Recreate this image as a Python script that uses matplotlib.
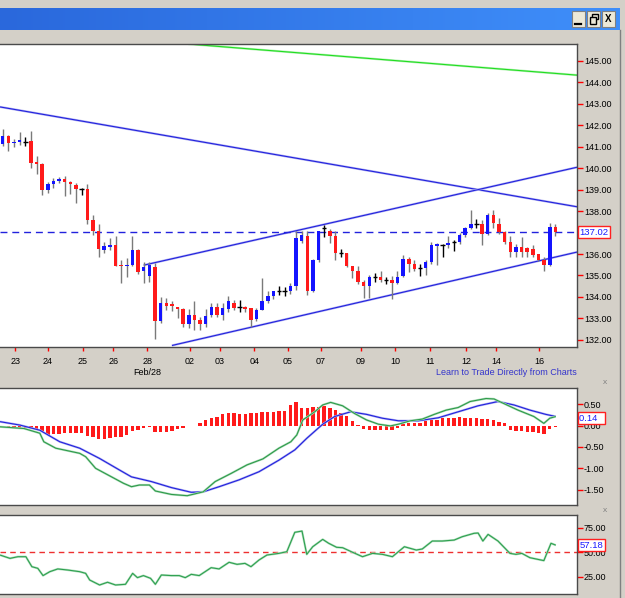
import numpy as np
import matplotlib
matplotlib.use("Agg")
import matplotlib.pyplot as plt
from matplotlib.patches import Rectangle

plt.rcParams['font.family'] = ['Liberation Sans', 'DejaVu Sans']
plt.rcParams['axes.unicode_minus'] = False

# 4-hour candles, Feb 23 -> Mar 16
opens = [141.13, 141.50, 141.16, 141.22, 141.23, 141.27, 140.25, 140.20, 138.99, 139.27,
         139.40, 139.48, 139.36, 139.22, 139.02, 139.02, 137.59, 137.09, 136.20, 136.35,
         136.41, 135.46, 135.42, 135.50, 136.20, 135.19, 134.99, 135.39, 132.86, 133.72,
         133.60, 133.50, 133.44, 132.75, 133.17, 132.94, 132.75, 133.17, 133.53, 133.17,
         133.44, 133.74, 133.53, 133.53, 133.48, 132.97, 133.40, 133.82, 134.06, 134.26,
         134.26, 134.27, 134.52, 136.60, 136.85, 134.26, 135.73, 137.20, 137.09, 136.85,
         136.04, 136.04, 135.42, 135.19, 134.72, 134.52, 134.91, 134.95, 134.77, 134.80,
         134.65, 134.99, 135.76, 135.54, 135.34, 135.34, 135.65, 136.38, 136.40, 136.40,
         136.58, 136.58, 136.89, 137.20, 137.39, 137.39, 136.93, 137.82, 137.39, 137.02,
         136.58, 136.09, 136.35, 136.30, 136.24, 135.99, 135.73, 135.50, 137.28]
highs = [141.81, 141.54, 141.34, 141.70, 141.47, 141.73, 140.57, 140.22, 139.37, 139.56,
         139.58, 139.64, 139.38, 139.33, 139.09, 139.27, 137.82, 137.40, 136.54, 136.74,
         136.85, 135.73, 135.81, 136.85, 136.23, 135.65, 135.64, 135.58, 134.02, 133.95,
         133.79, 133.52, 133.48, 133.44, 133.79, 133.09, 133.44, 133.72, 133.72, 133.74,
         134.06, 133.87, 133.84, 133.59, 133.50, 133.48, 134.88, 134.26, 134.30, 134.49,
         134.46, 134.65, 137.05, 137.05, 137.05, 135.75, 137.09, 137.36, 137.16, 137.09,
         136.23, 136.07, 135.45, 135.42, 134.80, 135.03, 135.11, 135.23, 134.95, 134.99,
         135.23, 135.96, 135.88, 135.70, 135.54, 135.73, 136.54, 136.49, 136.46, 136.86,
         136.66, 136.97, 137.28, 138.06, 137.64, 137.59, 137.90, 138.06, 137.70, 137.08,
         136.86, 136.46, 136.77, 136.32, 136.40, 136.01, 135.88, 137.44, 137.39]
lows = [141.03, 140.81, 141.00, 141.08, 141.03, 140.00, 139.72, 138.74, 138.86, 139.07,
        139.30, 138.71, 138.80, 138.37, 138.75, 137.40, 136.89, 135.88, 136.04, 136.17,
        135.42, 134.67, 134.95, 135.45, 135.08, 134.67, 134.71, 132.04, 132.79, 133.37,
        133.33, 133.00, 132.60, 132.55, 132.47, 132.47, 132.60, 133.09, 133.09, 132.91,
        133.28, 133.37, 133.28, 133.28, 132.60, 132.86, 133.37, 133.72, 133.90, 134.10,
        134.06, 134.15, 134.34, 136.51, 134.10, 134.21, 135.65, 136.81, 136.51, 135.73,
        135.88, 135.39, 134.88, 134.61, 133.95, 133.95, 134.72, 134.72, 134.61, 133.90,
        134.61, 134.95, 135.14, 135.19, 134.99, 135.03, 135.54, 135.50, 135.88, 136.27,
        136.12, 136.46, 136.81, 137.17, 137.20, 136.43, 136.89, 137.23, 136.93, 136.46,
        135.88, 135.88, 135.88, 135.88, 135.88, 135.68, 135.19, 135.42, 136.86]
closes = [141.50, 141.16, 141.23, 141.24, 141.23, 140.23, 140.21, 138.99, 139.27, 139.39,
          139.48, 139.37, 139.27, 139.03, 139.02, 137.59, 137.09, 136.23, 136.38, 136.43,
          135.45, 135.44, 135.50, 136.20, 135.14, 135.39, 135.50, 132.86, 133.72, 133.56,
          133.58, 133.44, 132.75, 133.17, 132.91, 132.75, 133.13, 133.53, 133.17, 133.48,
          133.79, 133.48, 133.53, 133.44, 132.94, 133.40, 133.82, 134.06, 134.26, 134.26,
          134.26, 134.52, 136.75, 136.89, 134.26, 135.73, 137.05, 137.20, 136.85, 136.04,
          136.04, 135.42, 135.23, 134.72, 134.52, 134.95, 134.91, 134.77, 134.77, 134.65,
          134.95, 135.76, 135.54, 135.30, 135.34, 135.65, 136.43, 136.47, 136.40, 136.51,
          136.58, 136.89, 137.20, 137.39, 137.39, 136.93, 137.82, 137.44, 137.02, 136.58,
          136.09, 136.35, 136.09, 136.09, 135.96, 135.73, 135.50, 137.28, 137.02]

day_tick_pos = [2.2, 8.0, 14.2, 19.6, 25.6, 33.2, 38.5, 44.6, 50.6, 56.4, 63.5, 69.6, 75.8, 82.2, 87.5, 95.1]
day_tick_labels = ["23", "24", "25", "26", "28", "02", "03", "04", "05", "07", "09", "10", "11", "12", "14", "16"]

# drawn trend lines (candle index, price)
green_line_x = [32.9, 101.83]
green_line_y = [145.78, 144.33]
resist_x = [-0.48, 101.83]
resist_y = [142.85, 138.20]
chan_top_x = [25.0, 101.83]
chan_top_y = [135.48, 140.04]
chan_bot_x = [30.0, 101.83]
chan_bot_y = [131.74, 136.09]
last_price = 137.02

# MACD panel
macd_hist = [-0.04, -0.05, -0.05, -0.06, -0.06, -0.07, -0.09, -0.12, -0.22, -0.21,
             -0.20, -0.18, -0.17, -0.17, -0.18, -0.25, -0.28, -0.31, -0.32, -0.30,
             -0.28, -0.26, -0.22, -0.14, -0.10, -0.06, -0.04, -0.15, -0.16, -0.15,
             -0.14, -0.09, -0.07, -0.02, -0.02, 0.06, 0.12, 0.18, 0.19, 0.27,
             0.29, 0.29, 0.28, 0.28, 0.29, 0.30, 0.31, 0.31, 0.32, 0.34,
             0.35, 0.47, 0.56, 0.40, 0.41, 0.43, 0.44, 0.45, 0.42, 0.37,
             0.30, 0.22, 0.10, 0.02, -0.09, -0.10, -0.10, -0.10, -0.11, -0.10,
             -0.05, 0.04, 0.05, 0.05, 0.06, 0.10, 0.13, 0.13, 0.17, 0.18,
             0.18, 0.19, 0.18, 0.18, 0.18, 0.16, 0.15, 0.13, 0.09, 0.05,
             -0.10, -0.12, -0.14, -0.15, -0.16, -0.18, -0.20, -0.08, -0.04]
macd_x = [-0.48, 3.76, 6.58, 7.29, 9.41, 13.65, 14.71, 16.47, 19.30, 21.42, 22.83, 24.25,
          26.01, 27.07, 29.90, 32.72, 35.55, 37.67, 40.49, 43.32, 46.14, 48.97, 51.09, 52.15,
          53.21, 55.33, 56.74, 58.15, 60.27, 62.39, 64.51, 66.63, 68.75, 70.16, 72.28, 74.40,
          76.52, 78.64, 80.76, 82.88, 85.70, 87.12, 89.23, 91.36, 94.18, 95.95, 97.00, 98.06]
macd_line = [-0.03, -0.07, -0.18, -0.38, -0.53, -0.65, -0.73, -1.00, -1.20, -1.35, -1.43, -1.39,
             -1.39, -1.53, -1.61, -1.64, -1.55, -1.31, -1.12, -0.92, -0.78, -0.53, -0.38, -0.22,
             0.13, 0.32, 0.48, 0.54, 0.46, 0.28, 0.13, 0.03, -0.01, 0.03, 0.11, 0.15,
             0.26, 0.36, 0.42, 0.56, 0.63, 0.62, 0.49, 0.36, 0.21, 0.05, 0.17, 0.21]
signal_x = [-0.48, 3.05, 6.58, 10.12, 13.65, 17.18, 20.71, 22.83, 26.37, 29.90, 33.43,
            35.55, 38.37, 41.91, 45.44, 48.97, 51.79, 53.91, 56.74, 58.86, 61.69, 64.51,
            67.34, 70.16, 73.69, 77.23, 80.76, 84.29, 87.82, 90.65, 93.48, 96.30, 98.06]
signal_line = [0.09, 0.01, -0.11, -0.38, -0.53, -0.77, -1.04, -1.20, -1.31, -1.45, -1.56,
               -1.55, -1.43, -1.27, -1.08, -0.81, -0.57, -0.30, 0.03, 0.21, 0.32, 0.26,
               0.17, 0.11, 0.11, 0.18, 0.32, 0.46, 0.56, 0.48, 0.36, 0.26, 0.21]
macd_label = "0.14"

# RSI panel
rsi_x = [-0.48, 1.29, 2.70, 4.11, 5.17, 6.23, 7.15, 8.35, 9.76, 11.53, 13.65, 14.71, 15.42,
         17.18, 18.59, 20.01, 21.77, 23.04, 23.89, 24.95, 26.22, 27.07, 28.13, 29.90, 31.31,
         32.37, 33.43, 34.84, 36.96, 38.37, 40.14, 41.55, 42.96, 44.02, 45.44, 46.85, 48.97,
         50.38, 51.79, 53.07, 53.91, 54.97, 56.74, 57.80, 59.21, 60.27, 62.04, 63.80, 65.57,
         67.34, 69.10, 71.22, 73.34, 74.40, 76.17, 77.93, 80.05, 81.47, 83.58, 84.29, 85.14,
         86.06, 87.82, 89.94, 91.00, 92.06, 93.47, 95.95, 97.22, 98.07]
rsi = [47.1, 43.7, 45.4, 45.4, 35.2, 33.5, 26.1, 30.1, 32.9, 31.8, 30.1, 28.4, 21.6,
       16.5, 19.3, 16.5, 17.2, 28.4, 24.0, 26.1, 23.3, 17.2, 26.7, 26.1, 26.1,
       24.0, 27.4, 26.1, 34.2, 32.9, 39.7, 37.6, 38.6, 35.2, 42.0, 47.1, 48.8,
       50.5, 70.3, 71.6, 47.8, 55.6, 63.1, 59.1, 55.0, 54.6, 49.9, 45.4, 48.8,
       47.8, 45.4, 55.6, 52.2, 53.3, 61.4, 61.4, 62.4, 65.8, 69.3, 69.6, 61.4,
       68.2, 61.4, 48.8, 47.8, 48.8, 44.4, 41.4, 59.1, 57.18]
rsi_mid = 50

W, H = 625, 598
BG = '#d4d0c8'
RED = '#ff1a1a'
BLUE = '#1414ff'
LINE_BLUE = '#2222dd'
XLIM = (-0.48, 101.83)


def fig_rect(x0, y0, x1, y1):
    # pixel box (top-left origin) -> figure fraction
    return [x0 / W, 1 - y1 / H, (x1 - x0) / W, (y1 - y0) / H]


def halo_line(ax, x, y, color, halo, lw=0.8, **kw):
    ax.plot(x, y, color=halo, lw=lw + 0.8, solid_capstyle='butt', **kw)
    ax.plot(x, y, color=color, lw=lw, solid_capstyle='butt', **kw)


def style_panel(ax, ylim, yticks, hide=()):
    ax.set_xlim(*XLIM)
    ax.set_ylim(*ylim)
    ax.set_facecolor('white')
    ax.spines['left'].set_visible(False)
    for s in ('top', 'right', 'bottom'):
        ax.spines[s].set_color('#4a4a4a')
        ax.spines[s].set_linewidth(1)
    ax.yaxis.tick_right()
    ax.set_yticks(yticks)
    # the label under the current-value box is covered in the original
    ax.set_yticklabels(["" if v in hide else f"{v:.2f}" for v in yticks])
    ax.tick_params(axis='y', colors='red', labelcolor='black', length=4, width=1,
                   pad=1, labelsize=6.5)


def value_box(ax, y, text):
    ax.text(1.004, y, text, transform=ax.get_yaxis_transform(), ha='left', va='center',
            fontsize=6.8, color='#1a1aff', clip_on=False, zorder=10,
            bbox=dict(boxstyle='square,pad=0.18', fc='white', ec='#ff2020', lw=1))


fig = plt.figure(figsize=(W / 100, H / 100), dpi=100)
fig.patch.set_facecolor(BG)

# window chrome
bg = fig.add_axes([0, 0, 1, 1])
bg.set_xlim(0, W)
bg.set_ylim(H, 0)
bg.axis('off')
grad = np.linspace(0, 1, 256)[None, :]
bg.imshow(grad, extent=(0, 620, 30, 8), aspect='auto',
          cmap=matplotlib.colors.LinearSegmentedColormap.from_list('tb', ['#2a68dc', '#3f8ffa']))
for bx in (572, 587, 602):
    bg.add_patch(Rectangle((bx, 11), 13, 16, fc='#ece9d8', ec='#808080', lw=0.8))
bg.plot([575, 581], [23.5, 23.5], color='black', lw=1.6)
bg.add_patch(Rectangle((592, 13.5), 6, 5, fc='none', ec='black', lw=1))
bg.add_patch(Rectangle((589.5, 16.5), 6, 7, fc='#ece9d8', ec='black', lw=1))
bg.text(608.5, 19, "X", fontsize=7, fontweight='bold', ha='center', va='center')
bg.plot([620, 620], [30, H], color='#808080', lw=1)
bg.text(605, 383, "x", fontsize=6, color='#808080', ha='center', va='center')
bg.text(605, 510, "x", fontsize=6, color='#808080', ha='center', va='center')

# ---------------- price panel ----------------
ax = fig.add_axes(fig_rect(0, 44, 577, 347))
style_panel(ax, (131.67, 145.78), np.arange(132, 146, 1.0), hide=(137.0,))

o = np.array(opens)
c = np.array(closes)
h = np.array(highs)
l = np.array(lows)
idx = np.arange(len(o))
flat = o == c
up = c > o
down = c < o
ax.vlines(idx[~flat], l[~flat], h[~flat], colors='#7a7a7a', lw=1, zorder=3)
ax.vlines(idx[flat], l[flat], h[flat], colors='black', lw=1, zorder=3)
ax.hlines(o[flat], idx[flat] - 0.4, idx[flat] + 0.4, colors='black', lw=1, zorder=4)
bottom = np.minimum(o, c)
height = np.maximum(np.abs(c - o), 0.07)
ax.bar(idx[up], height[up], bottom=bottom[up], width=0.62, color=BLUE, lw=0, zorder=4)
ax.bar(idx[down], height[down], bottom=bottom[down], width=0.62, color=RED, lw=0, zorder=4)

halo_line(ax, green_line_x, green_line_y, '#22dd22', '#b4f2b4', zorder=2)
halo_line(ax, resist_x, resist_y, LINE_BLUE, '#b4b4f2', zorder=2)
halo_line(ax, chan_top_x, chan_top_y, LINE_BLUE, '#b4b4f2', zorder=2)
halo_line(ax, chan_bot_x, chan_bot_y, LINE_BLUE, '#b4b4f2', zorder=2)
ax.axhline(last_price, color=LINE_BLUE, lw=1, ls=(0, (5, 3.5)), zorder=2)
value_box(ax, last_price, f"{last_price:.2f}")

ax.set_xticks(day_tick_pos)
ax.set_xticklabels(day_tick_labels)
ax.tick_params(axis='x', colors='red', labelcolor='black', length=3, width=1,
               pad=4, labelsize=6.5)
ax.text(day_tick_pos[4], -0.085, "Feb/28", transform=ax.get_xaxis_transform(),
        ha='center', va='center', fontsize=6.5)
ax.text(1.0, -0.085, "Learn to Trade Directly from Charts", transform=ax.transAxes,
        ha='right', va='center', fontsize=6.5, color='#3434cc')

# ---------------- MACD panel ----------------
ax2 = fig.add_axes(fig_rect(0, 388, 577, 505))
style_panel(ax2, (-1.857, 0.876), [0.5, 0.0, -0.5, -1.0, -1.5])
ax2.set_xticks([])
ax2.bar(idx, macd_hist, width=0.6, color=RED, lw=0, zorder=2)
halo_line(ax2, signal_x, signal_line, LINE_BLUE, '#b4b4f2', zorder=3)
halo_line(ax2, macd_x, macd_line, '#2e9a4a', '#b4e0c0', zorder=4)
value_box(ax2, 0.17, macd_label + "  ")

# ---------------- RSI panel ----------------
ax3 = fig.add_axes(fig_rect(0, 515, 577, 594))
style_panel(ax3, (7.3, 88.0), [75, 50, 25])
ax3.set_xticks([])
ax3.axhline(rsi_mid, color='#ee3030', lw=1, ls=(0, (4, 3)), zorder=2)
halo_line(ax3, rsi_x, rsi, '#2ea050', '#b4e0c0', zorder=3)
value_box(ax3, 57.3, f"{rsi[-1]:.2f}")

fig.savefig("out.png", dpi=100, facecolor=BG)
